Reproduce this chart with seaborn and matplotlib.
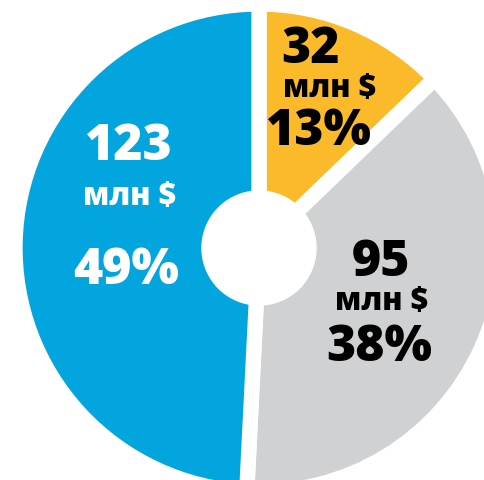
import numpy as np
import seaborn as sns
import matplotlib.pyplot as plt

# data, clockwise from 12 o'clock
values = [32, 95, 123]
percents = ["13%", "38%", "49%"]
unit = "млн $"
colors = ["#FBBA2A", "#D0D1D3", "#03A5DF"]
text_colors = ["black", "black", "white"]

sns.set_theme(style="white")
plt.rcParams["font.family"] = ["Open Sans", "DejaVu Sans"]

W, H = 485, 481
R = 244.0                 # pie radius in pixels
cx, cy = 259.0, 249.0     # pie centre in pixels

fig = plt.figure(figsize=(W / 100, H / 100), dpi=100)
ax = fig.add_axes([0, 0, 1, 1])

wedges, _ = ax.pie(
    values,
    colors=colors,
    startangle=90,
    counterclock=False,
    radius=1,
    wedgeprops=dict(edgecolor="white", linewidth=11),
)
ax.add_patch(plt.Circle((0, 0), 57 / R, color="white", zorder=5))

ax.set_xlim(-cx / R, (W - cx) / R)
ax.set_ylim(-(H - cy) / R, cy / R)
ax.set_aspect("equal")
ax.axis("off")

# label block anchor: (angle shift from wedge middle, radius fraction)
anchors = [(2, 0.69), (0, 0.55), (-15, 0.56)]
# per line: (dx, dy) pixel offsets of value, unit, percent
offsets = [
    [(-9, 42), (10, 3), (0, -40)],
    [(0, 42), (1, 3), (-2, -43)],
    [(1, 63), (2, 13), (-2, -61)],
]
sizes = [36, 22, 36]

for w, val, pct, tc, (dang, rf), offs in zip(
    wedges, values, percents, text_colors, anchors, offsets
):
    mid = np.deg2rad((w.theta1 + w.theta2) / 2 + dang)
    x, y = rf * np.cos(mid), rf * np.sin(mid)
    for txt, (dx, dy), fs in zip([str(val), unit, pct], offs, sizes):
        ax.annotate(
            txt,
            xy=(x, y),
            xytext=(dx, dy),
            textcoords="offset pixels",
            ha="center",
            va="center",
            fontsize=fs,
            fontweight="heavy",
            color=tc,
            zorder=6,
        )

plt.savefig("out.png", dpi=100)
plt.close()
